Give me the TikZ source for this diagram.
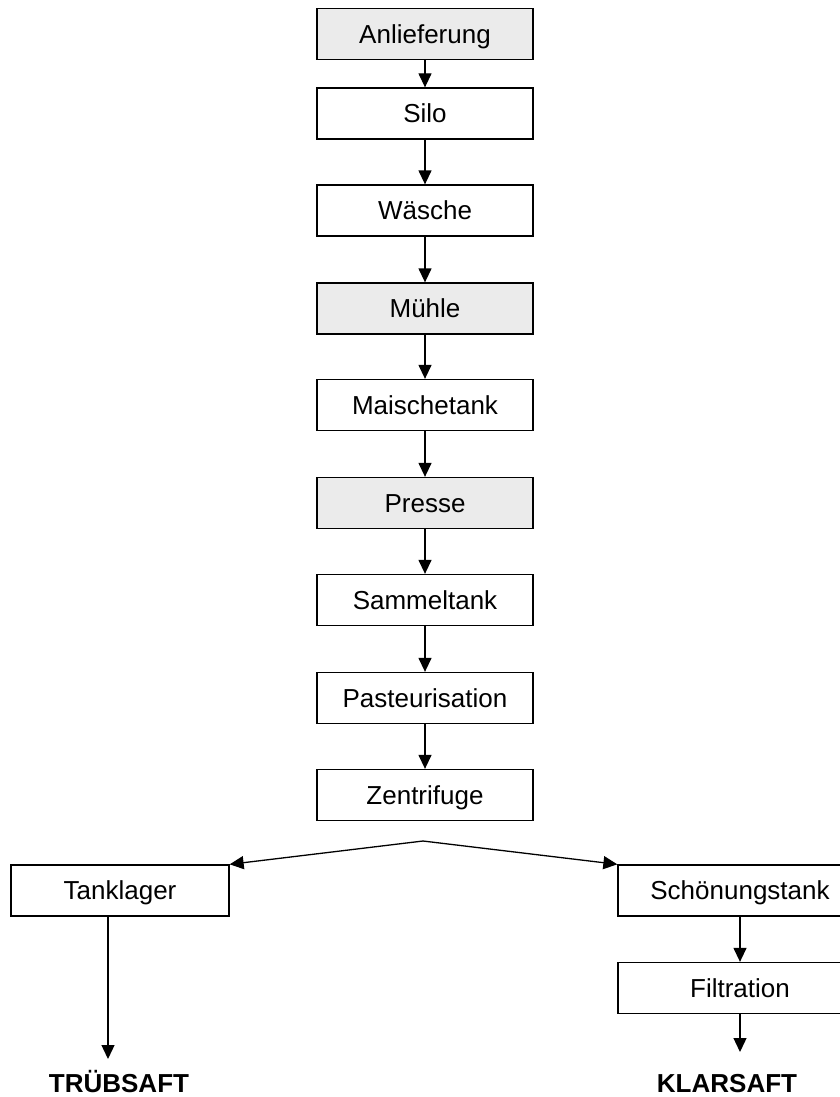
\documentclass[tikz,border=0pt]{standalone}
\usepackage{fontspec}
\setmainfont{Liberation Sans}
\usetikzlibrary{arrows.meta}

\tikzset{
  stepbox/.style={draw, line width=1.3pt, minimum width=216pt, minimum height=51pt,
    inner sep=0pt, text height=18.5pt, text depth=0pt, font=\fontsize{26}{30}\selectfont},
  greybox/.style={stepbox, fill={rgb, 255:red, 235; green, 235; blue, 235}},
  flow/.style={line width=1.3pt, -{Triangle[width=13pt,length=14pt]}},
  endlabel/.style={inner sep=0pt, anchor=base, font=\fontsize{26}{30}\selectfont\bfseries}
}

\begin{document}
\begin{tikzpicture}[x=1pt,y=1pt,yscale=-1,xscale=1]
        \useasboundingbox (0,0) rectangle (840,1097);

        % main line
        \node[greybox] (anl) at (425,34) {Anlieferung};
        \node[stepbox] (silo) at (425,113.5) {Silo};
        \node[stepbox] (wae) at (425,210.5) {Wäsche};
        \node[greybox] (mue) at (425,308.5) {Mühle};
        \node[stepbox] (mai) at (425,405) {Maischetank};
        \node[greybox] (pre) at (425,503) {Presse};
        \node[stepbox] (sam) at (425,600) {Sammeltank};
        \node[stepbox] (pas) at (425,698) {Pasteurisation};
        \node[stepbox] (zen) at (425,795) {Zentrifuge};

        \foreach \a/\b in {anl/silo,silo/wae,wae/mue,mue/mai,mai/pre,pre/sam,sam/pas,pas/zen}
          \draw[flow] (\a) -- (\b);

        % left branch
        \node[stepbox, minimum width=218pt] (tank) at (120,890.5) {Tanklager};
        \node[endlabel] (trueb) at (119,1092) {TRÜBSAFT};

        % right branch
        \node[stepbox, minimum width=244pt] (schoen) at (740,890.5) {Schönungstank};
        \node[stepbox, minimum width=244pt] (filt) at (740,988) {Filtration};
        \node[endlabel] (klar) at (727,1092) {KLARSAFT};

        % split
        \coordinate (fork) at (423,841);
        \draw[flow] (fork) -- (tank.north east);
        \draw[flow] (fork) -- (schoen.north west);

        \coordinate (truebend) at (108,1059);
        \draw[flow] (tank.south -| truebend) -- (truebend);
        \draw[flow] (schoen) -- (filt);
        \coordinate (klarend) at (740,1052);
        \draw[flow] (filt) -- (klarend);

    \end{tikzpicture}
\end{document}
